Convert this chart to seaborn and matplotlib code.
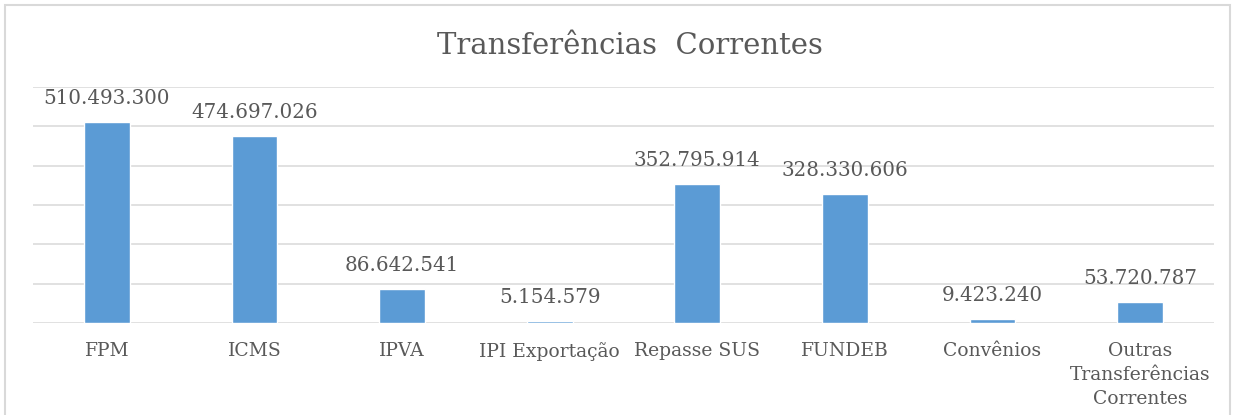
import matplotlib
matplotlib.use("Agg")
import matplotlib.pyplot as plt
import seaborn as sns
import pandas as pd
from matplotlib.patches import Rectangle

categories = ["FPM", "ICMS", "IPVA", "IPI Exportação", "Repasse SUS", "FUNDEB",
              "Convênios", "Outras\nTransferências\nCorrentes"]
values = [510493300, 474697026, 86642541, 5154579, 352795914, 328330606,
          9423240, 53720787]
value_labels = ["510.493.300", "474.697.026", "86.642.541", "5.154.579",
                "352.795.914", "328.330.606", "9.423.240", "53.720.787"]
title = "Transferências  Correntes"

sns.set_theme(style="white")
plt.rcParams['font.family'] = ['DejaVu Serif']

text_color = "#595959"
bar_color = "#5B9BD5"
grid_color = "#D9D9D9"

df = pd.DataFrame({"cat": categories, "val": values})

fig = plt.figure(figsize=(12.38, 4.15), dpi=100)
ax = fig.add_axes([33/1238, 92/415, (1214-33)/1238, (323-87)/415])

sns.barplot(data=df, x="cat", y="val", color=bar_color, width=0.31,
            saturation=1, ax=ax, zorder=3)

ax.set_ylim(0, 600e6)
ax.set_xlim(-0.5, len(categories) - 0.5)
ax.set_yticks([i * 100e6 for i in range(7)])
ax.yaxis.grid(True, color=grid_color, linewidth=1.1, zorder=0)
ax.set_axisbelow(True)
ax.tick_params(axis="y", left=False, labelleft=False)
ax.tick_params(axis="x", bottom=False, pad=8, labelsize=13.5, labelcolor=text_color)
for s in ax.spines.values():
    s.set_visible(False)
ax.set_xlabel("")
ax.set_ylabel("")
for lbl in ax.get_xticklabels():
    lbl.set_linespacing(1.4)

for i, (v, t) in enumerate(zip(values, value_labels)):
    ax.annotate(t, (i, v), xytext=(0, 10), textcoords="offset points",
                ha="center", va="bottom", fontsize=14.3, color=text_color)

fig.text(0.509, 1 - 46/415, title, ha="center", va="center",
         fontsize=21, color=text_color)

fig.patches.append(Rectangle((5/1238, -0.05), 1225/1238, 1 - 5/415 + 0.05,
                             transform=fig.transFigure, fill=False,
                             edgecolor="#D9D9D9", linewidth=1.5))

fig.savefig("out.png", dpi=100)
